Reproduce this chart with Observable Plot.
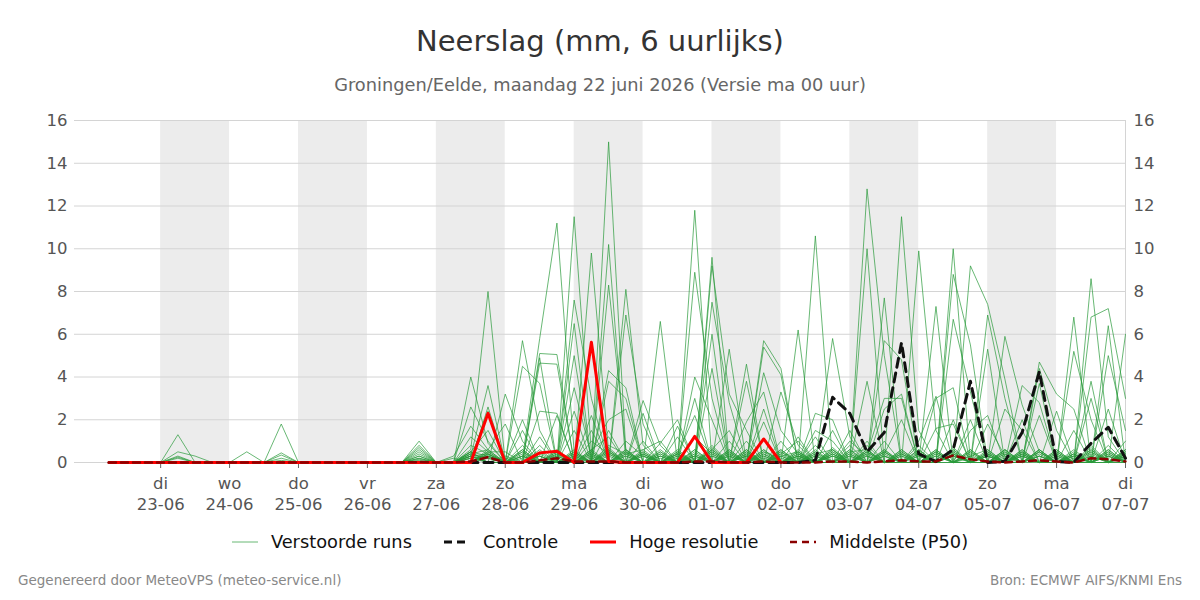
<!DOCTYPE html>
<html><head><meta charset="utf-8">
<script src="https://cdn.jsdelivr.net/npm/d3@7"></script>
<script src="https://cdn.jsdelivr.net/npm/@observablehq/plot@0.6"></script>
<style>
body{margin:0;background:#fff;font-family:"DejaVu Sans",sans-serif;}
#wrap{position:relative;width:1200px;height:600px;overflow:hidden;}
#title{position:absolute;top:24px;left:0;width:1200px;text-align:center;font-size:29px;color:#333;}
#sub{position:absolute;top:74px;left:0;width:1200px;text-align:center;font-size:17.8px;color:#666;}
#chart{position:absolute;top:100px;left:0;}
#legend{position:absolute;top:531px;left:0;width:1200px;display:flex;justify-content:center;gap:32px;font-size:17.8px;color:#111;}
#legend .it{display:flex;align-items:center;gap:13px;}
#fl{position:absolute;top:572px;left:18px;font-size:13.5px;color:#888;}
#fr{position:absolute;top:572px;right:18px;font-size:13.5px;color:#888;}
</style></head>
<body><div id="wrap">
<div id="title">Neerslag (mm, 6 uurlijks)</div>
<div id="sub">Groningen/Eelde, maandag 22 juni 2026 (Versie ma 00 uur)</div>
<div id="chart"></div>
<div id="legend"></div>
<div id="fl">Gegenereerd door MeteoVPS (meteo-service.nl)</div>
<div id="fr">Bron: ECMWF AIFS/KNMI Ens</div>
</div>
<script>
// 6-hourly values, first value = 22-06 06:00 UTC, last = 07-07 00:00
const runs = [
[0,0,0,0, 1.3,0,0,0, 0,0,0.1,0, 0,0,0,0, 0,0,1.0,0, 0,4.0,0.9,0, 0,0.6,0,3.5, 0.3,0,0.4,0, 0,0,1.2,0.4, 0,0,0.5,0.2, 0,0,0,1.0, 0.3,0,0.6,0, 0.3,0,0,0, 5.9,2.7,0.5,0, 0.4,0,0.3,0],
[0,0,0,0, 0.5,0.3,0,0, 0,0,0,0, 0,0,0,0, 0,0,0.8,0, 0,2.6,1.0,0, 1.5,0,0.3,0, 9.8,0.5,0,0, 0.2,0,0,9.6, 0,0.4,0,0, 0.3,0,0,0.8, 0,0.5,0,0, 0,0.4,0,0, 2.5,1.5,0,0, 0,0.6,0,0.2],
[0,0,0,0, 0.3,0,0,0, 0,0,0,0, 0,0,0,0, 0,0,0.7,0, 0.3,1.7,0.6,1.8, 0,0.4,0,0.2, 0,15.0,0.5,0, 0.3,0,0,9.2, 3.2,1.5,0,0, 0.4,0,0.6,0, 12.8,5.0,0,0, 0.5,0,0.3,0, 0,3.6,2.8,0, 0,0.5,0,0.3],
[0,0,0,0, 0.2,0,0,0, 0,0,0,0, 0,0,0,0, 0,0,0.6,0, 0,1.2,0.5,0.5, 0,0,0.5,0, 0,10.2,0,0.3, 0,0.2,0,7.5, 2.8,0,0,0.6, 0,0.3,0,0, 10.0,0,0,0.4, 0,0.7,0,0, 0,2.0,0,0, 0.3,0,0.8,0],
[0,0,0,0, 0.25,0,0,0, 0,0,0,0, 0,0,0,0, 0,0,0.5,0, 0,0.8,0.4,0, 0,0.8,0,0.3, 0,8.3,0.6,0, 0,0.4,0,6.0, 0,0,0.3,0, 0,0.5,0,0, 3.8,0,0.4,0, 0,0,0.6,0, 0.2,0,4.7,3.2, 2.5,0,0.4,0],
[0,0,0,0, 0,0,0,0, 0.5,0,0,0, 0,0,0,0, 0,0,0.4,0, 0,0.5,0.3,0, 0.8,0,0.4,0, 0,4.3,3.5,0, 0.5,0,0,4.4, 0,0.3,0,0, 0.2,0,0.4,0, 1.0,0,0,0.3, 0,0.5,0,0.3, 0,0,4.4,1.5, 0,0.7,0,0.4],
[0,0,0,0, 0,0,0,0, 0,0,1.8,0, 0,0,0,0, 0,0,0.3,0, 0,0.4,0.2,0, 0.5,0,0,0.6, 0,3.8,3.0,0, 0.3,0,0.5,0, 5.3,0,0,0.4, 0,0,0.3,0, 0.8,0,0.5,0, 0.4,0,0,0.6, 0,0,3.7,0, 0.3,0,0.5,0],
[0,0,0,0, 0,0,0,0, 0,0,0.45,0, 0,0,0,0, 0,0,0.3,0, 0,0.3,0.4,0, 0,0.3,0,0, 0.5,2.0,2.5,0, 0,0.4,0,0.6, 1.5,0,0.2,0, 0.5,0,0,0.3, 0,7.7,0,0, 0,0.3,0,0, 0.4,0,2.2,0, 0,0.3,0,0.6],
[0,0,0,0, 0,0,0,0, 0,0,0.35,0, 0,0,0,0, 0,0,0.2,0, 0,0.6,8.0,0, 0.3,0,0,1.5, 0,0.7,0,0.4, 0,0,0.3,0, 1.0,0,0.6,0, 0,0.4,0,0, 0,5.7,4.8,0, 0.5,0,0.2,0, 0.6,0,0,2.4, 0,0,0.3,0],
[0,0,0,0, 0,0,0,0, 0,0,0.2,0, 0,0,0,0, 0,0,0.2,0, 0,0.3,3.6,0, 0.6,0,0,0.4, 0,0,8.1,0.8, 0,0,0.6,0, 0,4.6,0,0, 0.3,0,0.5,0, 0,2.5,3.2,0, 0,0.6,0,0.4, 0,0.3,0,0, 6.8,0,0,0.5],
[0,0,0,0, 0,0,0,0, 0,0,0,0, 0,0,0,0, 0,0,0.15,0, 0.2,0,2.6,0, 0.4,0,0.5,0, 2.2,0,0.3,0, 0,0.5,0,0.8, 0,3.8,0,0.5, 0,0.6,0,0.4, 0,1.0,0,0, 0.3,0,0.4,0, 0.5,0,0.6,0, 5.2,2.0,0,0],
[0,0,0,0, 0,0,0,0, 0,0,0,0, 0,0,0,0, 0,0,0.1,0, 0,0.2,2.4,0, 0,0.5,0,0, 1.5,0,0.6,0, 0.4,0,0.2,0, 0,1.9,3.3,0, 0.6,0,0.3,0, 0.4,3.0,3.0,0, 0,0.5,0,0.5, 0,0,0.3,0, 1.5,0,0.6,0],
[0,0,0,0, 0,0,0,0, 0,0,0,0, 0,0,0,0, 0,0,0,0, 0,0.5,1.5,0, 0.3,0,0.6,0, 1.0,0.4,0,0.5, 0,0.3,0,0.5, 0,1.0,0,0.3, 0,0.8,0,0.5, 0.6,0,11.5,1.5, 0,0.4,0,0.3, 0,0.6,0,0.2, 0,8.6,1.2,0],
[0,0,0,0, 0,0,0,0, 0,0,0,0, 0,0,0,0, 0,0,0,0, 0,0,0.5,0, 0,0.3,0,0.5, 0,1.5,0,0, 0.6,0,0.4,0, 0.3,0,5.7,4.4, 0,0.5,0,0.6, 0,0.4,2.0,0, 0.6,0,0.5,0, 0.3,0,0.5,0, 0,6.8,7.2,3.0],
[0,0,0,0, 0,0,0,0, 0,0,0,0, 0,0,0,0, 0,0,0,0, 0,0.2,0.3,0, 0,0,0.4,0, 0.6,1.2,0,0.3, 0,0.6,0,0.3, 0,0,5.4,4.1, 0,0.4,0.6,0, 0.5,0,0,9.9, 1.5,0,0.6,0, 0.5,0,0.4,0, 0,3.8,0,0.3],
[0,0,0,0, 0,0,0,0, 0,0,0,0, 0,0,0,0, 0,0,0,0, 0,0,0.2,0, 0.5,0,0,0.3, 0,0.8,0.4,0, 0.5,0,0.4,0, 0.6,0,4.2,1.5, 0.4,0,0,0.3, 0,0.6,0,1.0, 3.1,0,0.3,0.6, 0,0.4,0,0.5, 0,3.0,0,0.4],
[0,0,0,0, 0,0,0,0, 0,0,0,0, 0,0,0,0, 0,0,0,0, 0,0.3,0,3.2, 1.0,0,0.2,0, 0.4,0,0,2.3, 0,0.3,0,0.7, 0,0,2.5,0, 0.5,0,0.4,0, 0.3,0,0,0.8, 0,0.6,0,0.4, 0,0.5,0,0, 0.6,0,6.4,0],
[0,0,0,0, 0,0,0,0, 0,0,0,0, 0,0,0,0, 0,0,0,0, 0,0.4,0.6,0, 5.7,1.5,0,0.5, 0,0.6,0,2.9, 0.8,0,0.3,0, 0.4,0,1.9,0, 0.3,0,0.5,0, 0,0.3,0,0, 7.3,0,0.5,0, 0.6,0,0.3,0, 0.2,0,5.0,1.5],
[0,0,0,0, 0,0,0,0, 0,0,0,0, 0,0,0,0, 0,0,0,0, 0,0,0.3,0, 4.5,3.7,0,5.0, 0,0.5,0,0.4, 0,0.5,0,0.4, 0,0.3,0,3.3, 0.8,0,0.7,0, 0.5,0,0.4,0, 3.0,3.5,0,0.3, 0,0.6,0,0.4, 0,0,2.5,0],
[0,0,0,0, 0,0,0,0, 0,0,0,0, 0,0,0,0, 0,0,0,0, 0,0.5,0,0, 2.0,0,0.3,0, 0.2,0,6.9,1.8, 0,0.4,0,0.6, 0,0.5,0,1.0, 0,0.3,0,0.6, 0,0.5,0,0, 1.6,1.8,0,0.4, 0,0.3,0,0.6, 0,0.8,0,6.0],
[0,0,0,0, 0,0,0,0, 0,0,0,0, 0,0,0,0, 0,0,0,0, 0,0,0.4,0, 0,5.1,5.05,0, 0.3,0,0.5,0, 6.6,0,0.6,0, 0.4,0,0.5,0, 6.2,0,0.4,0, 0.3,0,0.6,0, 0,10.0,0,0.5, 0,0.4,0,0.3, 0,0.5,0,1.0],
[0,0,0,0, 0,0,0,0, 0,0,0,0, 0,0,0,0, 0,0,0,0, 0,0.3,0,0.2, 0,4.9,0,2.4, 0,0.4,0,0.6, 1.0,0,0.3,0, 0.5,0,0.3,0, 1.2,0,0.6,0, 0,0.4,0,0.5, 0,8.8,5.5,0, 0.4,0,0.6,0, 0.4,0,0.5,0],
[0,0,0,0, 0,0,0,0, 0,0,0,0, 0,0,0,0, 0,0,0,0, 0,0,0.5,0, 0,4.65,4.6,0, 0.6,0,0.3,0, 0.9,2.0,0,0.5, 0,0.6,0,0.4, 1.0,0,0.3,0, 0.4,0,0.3,0, 0,6.7,3.3,0, 0.6,0,0.3,0, 0,0.4,0,0.6],
[0,0,0,0, 0,0,0,0, 0,0,0,0, 0,0,0,0, 0,0,0,0, 0,0.2,0,0, 0,2.4,2.3,0, 0.4,0,1.0,0.3, 0,1.7,0,0.6, 0,0.4,0,0.6, 0,10.6,0,0.5, 0,0.3,0,0.6, 0,2.0,0,0.3, 0,0.5,0,0.4, 0,0,0.6,0],
[0,0,0,0, 0,0,0,0, 0,0,0,0, 0,0,0,0, 0,0,0,0, 0,0,0.3,0, 0,1.2,0,0.4, 0,0.5,0,1.0, 0,1.2,0,0.3, 0,0.5,0,0.3, 0,2.3,2.0,0, 0.6,0,0.5,0, 0.4,0,9.2,7.4, 3.9,0,0.5,0, 0.3,0,0,0.4],
[0,0,0,0, 0,0,0,0, 0,0,0,0, 0,0,0,0, 0,0,0,0, 0,0.4,0,0, 0.2,5.8,11.2,0.5, 0,0.6,0,0.4, 0,0,11.8,0, 0.5,0,0.4,0, 0,1.5,1.0,0, 0.5,0,0.3,0, 0.6,0,2.0,0, 0,0.4,0,0.6, 0,0.3,0,0],
[0,0,0,0, 0,0,0,0, 0,0,0,0, 0,0,0,0, 0,0,0,0, 0,0,0.6,0, 0.3,0,2.2,0, 0.5,0,0.4,0.6, 0,0,8.9,3.0, 0,0.3,0,0.5, 0,1.2,0,0.4, 0,0.6,0,0.3, 0,0,1.5,2.2, 0,0.3,0,0.5, 0,0,0.4,0],
[0,0,0,0, 0,0,0,0, 0,0,0,0, 0,0,0,0, 0,0,0,0, 0,0.3,0,0, 0.6,0,0,11.5, 0.5,0,0.5,0, 0.4,0,4.0,2.0, 0,0.6,0,0.3, 0.5,0,5.8,1.2, 0,0.5,0,0.4, 0,0.3,0,6.9, 3.0,0,0.6,0, 0.5,0,0,0.3],
[0,0,0,0, 0,0,0,0, 0,0,0,0, 0,0,0,0, 0,0,0,0, 0,0,0.4,0, 0,0.3,0,7.6, 3.0,0,0.6,0, 0.3,0,3.0,0, 0.6,0,0.4,0, 0.3,0,1.5,0, 0.6,0,0.4,0, 0.5,0,0,5.3, 0,0.5,0,0.3, 0,0.6,0,0.5],
[0,0,0,0, 0,0,0,0, 0,0,0,0, 0,0,0,0, 0,0,0,0, 0,0.5,0,0.3, 0,0,0,6.5, 0,0.3,0,0.5, 0,0.4,2.2,0, 0.3,0,0.6,0, 0.4,0,0,1.5, 0,0.3,0,0.6, 0,0.4,0,1.8, 0.3,0,0.5,0, 0.4,0,0.3,0]
];
const controle = [0,0,0,0, 0,0,0,0, 0,0,0,0, 0,0,0,0, 0,0,0,0, 0,0,0,0, 0,0,0,0, 0,0,0,0, 0,0,0,0, 0,0,0,0, 0,0.1,3.05,2.3, 0.5,1.4,5.6,0.4, 0.05,0.6,3.8,0, 0.05,1.4,4.25,0.05, 0,0.9,1.65,0.2];
const hogeResolutie = [0,0,0,0, 0,0,0,0, 0,0,0,0, 0,0,0,0, 0,0,0,0, 0,0,2.3,0, 0,0.45,0.53,0, 5.63,0.05,0,0, 0,0,1.22,0, 0,0,1.1,0];
const middelste = [0,0,0,0, 0,0,0,0, 0,0,0,0, 0,0,0,0, 0,0,0.02,0, 0,0.05,0.25,0, 0,0.1,0.2,0.05, 0.05,0.05,0,0, 0,0,0.05,0.05, 0,0,0.05,0, 0,0,0.05,0.05, 0,0.05,0.1,0.05, 0.05,0.33,0.15,0.05, 0,0.05,0.1,0.05, 0,0.2,0.15,0.05];
const dayNames = ["di","wo","do","vr","za","zo","ma","di","wo","do","vr","za","zo","ma","di"];
const dayDates = ["23-06","24-06","25-06","26-06","27-06","28-06","29-06","30-06","01-07","02-07","03-07","04-07","05-07","06-07","07-07"];
const shadedDays = ["2026-06-23","2026-06-25","2026-06-27","2026-06-29","2026-07-01","2026-07-03","2026-07-05"];
const yTicks = [0,2,4,6,8,10,12,14,16];

const H6 = 6*3600e3, DAY = 24*3600e3;
const t0 = Date.UTC(2026,5,22,6);
const times = runs[0].map((_, k) => new Date(t0 + k*H6));
const tickDates = dayDates.map(s => { const [d,m] = s.split("-"); return new Date(Date.UTC(2026, +m-1, +d)); });
const bands = shadedDays.map(s => ({x1: new Date(s+"T00:00Z"), x2: new Date(new Date(s+"T00:00Z").getTime()+DAY)}));
const runRows = runs.flatMap((arr, m) => arr.map((v, k) => ({t: times[k], v, m})));
const ctrlRows = controle.map((v,k)=>({t:times[k], v}));
const hresRows = hogeResolutie.map((v,k)=>({t:times[k], v}));
const p50Rows = middelste.map((v,k)=>({t:times[k], v}));
const xStart = new Date(Date.UTC(2026,5,21,18)), xEnd = new Date(Date.UTC(2026,6,7));

const fmt = d => { const i = tickDates.findIndex(t => +t === +d); return dayNames[i] + "\n" + dayDates[i]; };

const chart = Plot.plot({
  width: 1200, height: 420,
  marginLeft: 74, marginRight: 75, marginTop: 20, marginBottom: 58,
  style: {fontFamily: "DejaVu Sans, sans-serif", fontSize: "16.5px", color: "#555", background: "transparent"},
  x: {type: "utc", domain: [xStart, xEnd]},
  y: {domain: [0, 16]},
  marks: [
    Plot.rect(bands, {x1: "x1", x2: "x2", y1: 0, y2: 16, fill: "#ececec"}),
    Plot.gridY(yTicks, {stroke: "#d4d4d4", strokeOpacity: 1, strokeWidth: 1}),
    Plot.ruleX([xEnd], {stroke: "#d4d4d4"}),
    Plot.axisY(yTicks, {anchor: "left", tickSize: 0, tickPadding: 7, label: null}),
    Plot.axisY(yTicks, {anchor: "right", tickSize: 0, tickPadding: 8, label: null}),
    Plot.axisX(tickDates, {anchor: "bottom", tickSize: 6, tickPadding: 6, tickFormat: fmt, lineHeight: 1.27, label: null, stroke: "#666"}),
    Plot.line(runRows, {x: "t", y: "v", z: "m", stroke: "#2a9a3a", strokeOpacity: 0.7, strokeWidth: 1}),
    Plot.line(ctrlRows, {x: "t", y: "v", stroke: "#111", strokeWidth: 3, strokeDasharray: "9,6"}),
    Plot.line(hresRows, {x: "t", y: "v", stroke: "#ff0000", strokeWidth: 3}),
    Plot.line(p50Rows, {x: "t", y: "v", stroke: "#8b0000", strokeWidth: 2.5, strokeDasharray: "7,5"})
  ]
});
document.getElementById("chart").appendChild(chart);

const legendItems = [
  {label: "Verstoorde runs", stroke: "#2a9a3a", w: 1, dash: null, op: 0.7},
  {label: "Controle", stroke: "#111", w: 3, dash: "8,5", op: 1},
  {label: "Hoge resolutie", stroke: "#ff0000", w: 3, dash: null, op: 1},
  {label: "Middelste (P50)", stroke: "#8b0000", w: 2.5, dash: "7,5", op: 1}
];
const lg = document.getElementById("legend");
legendItems.forEach(it => {
  const d = document.createElement("div"); d.className = "it";
  d.innerHTML = `<svg width="26" height="10"><line x1="0" x2="26" y1="5" y2="5" stroke="${it.stroke}" stroke-width="${it.w}" stroke-opacity="${it.op}" ${it.dash ? `stroke-dasharray="${it.dash}"` : ""}/></svg><span>${it.label}</span>`;
  lg.appendChild(d);
});
</script>
</body></html>
